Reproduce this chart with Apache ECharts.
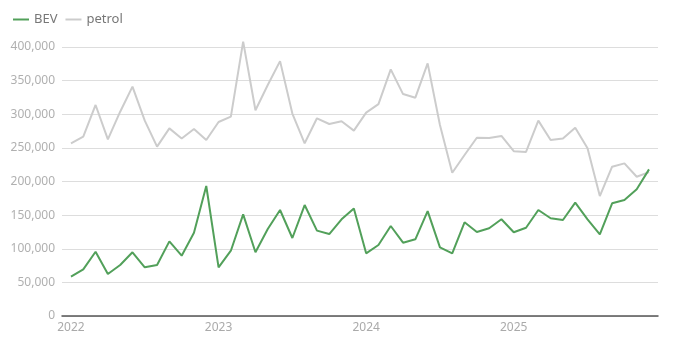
<!DOCTYPE html>
<html>
<head>
<meta charset="utf-8">
<script src="https://cdn.jsdelivr.net/npm/echarts@6/dist/echarts.min.js"></script>
<style>
  html, body { margin: 0; padding: 0; background: #fff; }
  #chart { width: 680px; height: 353px; }
</style>
</head>
<body>
<div id="chart"></div>
<script>
  // monthly registrations, Jan 2022 .. Dec 2025
  const startYear = 2022
  const yearTicks = [0, 12, 24, 36]

  const bev = [
    58400, 69400, 95600, 62500, 75800, 94700, 72400, 75800, 111000, 89700, 123900, 193300,
    72400, 97100, 151200, 94700, 129400, 157600, 116000, 165000, 126900, 121900, 143800, 160000,
    93200, 105600, 133800, 109000, 114000, 156000, 102000, 93200, 139300, 125000, 130400, 143800,
    124500, 131300, 157600, 145300, 142800, 168500, 143800, 121500, 167600, 172500, 188400, 218000
  ]
  const petrol = [
    256800, 266600, 313800, 262700, 303800, 341000, 290500, 251800, 279000, 264000, 278000, 261700,
    288500, 296400, 408000, 306000, 343500, 379000, 301000, 256800, 294000, 285500, 289500, 275600,
    302400, 315000, 366800, 330000, 324600, 375700, 284000, 213000, 239400, 265000, 264700, 267700,
    245000, 243900, 290500, 261700, 264000, 280000, 249300, 178400, 222000, 227000, 207000, 214000
  ]

  const toPoints = arr => arr.map((v, i) => [i, v])

  const chart = echarts.init(document.getElementById('chart'))
  const fontFamily = '"Noto Sans", sans-serif'

  chart.setOption({
    animation: false,
    textStyle: { fontFamily },
    legend: {
      left: 8,
      top: 8,
      itemWidth: 16,
      itemHeight: 2,
      itemGap: 8,
      icon: 'rect',
      data: ['BEV', 'petrol'],
      textStyle: { color: '#777', fontSize: 13, fontFamily }
    },
    grid: {
      left: 62,
      right: 22,
      top: 47,
      bottom: 37
    },
    xAxis: {
      type: 'value',
      min: -0.73,
      max: 47.73,
      axisLine: { show: true, lineStyle: { color: '#555', width: 1.5 } },
      axisTick: { show: false },
      splitLine: { show: false },
      axisLabel: {
        customValues: yearTicks,
        formatter: v => String(startYear + Math.round(v / 12)),
        color: '#aaa',
        fontSize: 12,
        margin: 6
      }
    },
    yAxis: {
      type: 'value',
      min: 0,
      max: 400000,
      interval: 50000,
      axisLine: { show: false },
      axisTick: { show: false },
      splitLine: { lineStyle: { color: '#ddd', width: 1 } },
      axisLabel: {
        color: '#b0b0b0',
        fontSize: 12,
        margin: 7,
        formatter: v => v.toLocaleString('en-US')
      }
    },
    series: [
      {
        name: 'BEV',
        type: 'line',
        data: toPoints(bev),
        showSymbol: false,
        clip: false,
        z: 3,
        lineStyle: { color: '#52a05a', width: 2 },
        itemStyle: { color: '#52a05a' }
      },
      {
        name: 'petrol',
        type: 'line',
        data: toPoints(petrol),
        showSymbol: false,
        clip: false,
        z: 2,
        lineStyle: { color: '#cccccc', width: 2 },
        itemStyle: { color: '#cccccc' }
      }
    ]
  })
</script>
</body>
</html>
